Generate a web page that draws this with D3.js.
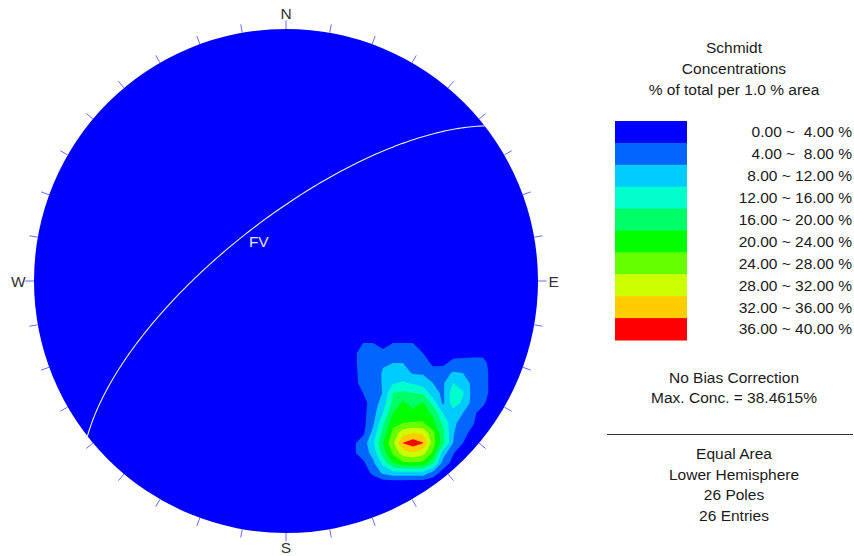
<!DOCTYPE html>
<html><head><meta charset="utf-8">
<script src="https://cdn.jsdelivr.net/npm/d3@7"></script>
<style>
body{margin:0;background:#fff;}
svg{display:block;font-family:"Liberation Sans",Arial,sans-serif;}
text{white-space:pre;}
</style></head><body>
<svg id="chart" width="854" height="556"></svg>
<script>
// ---------------- data ----------------
const bandThresholds = [4, 8, 12, 16, 20, 24, 28, 32, 36];
const bandColors = ["#0000FF","#0066FF","#00CCFF","#00FFCC","#00FF66","#00FF00","#66FF00","#CCFF00","#FFCC00","#FF0000"];
const bandLabels = ["0.00 ~  4.00 %"," 4.00 ~  8.00 %","8.00 ~ 12.00 %","12.00 ~ 16.00 %","16.00 ~ 20.00 %",
                    "20.00 ~ 24.00 %","24.00 ~ 28.00 %","28.00 ~ 32.00 %","32.00 ~ 36.00 %","36.00 ~ 40.00 %"];
const legendTitle = ["Schmidt", "Concentrations", "% of total per 1.0 % area"];
const infoTop = ["No Bias Correction", "Max. Conc. = 38.4615%"];
const infoBottom = ["Equal Area", "Lower Hemisphere", "26 Poles", "26 Entries"];
const cardinals = [{label:"N", az:0}, {label:"E", az:90}, {label:"S", az:180}, {label:"W", az:270}];
const tickAzimuths = d3.range(0, 360, 10);
const planes = [{name:"FV", dipDirection:322, dip:70}];

// density grid (% of total per 1% area), net units (east, south), primitive radius = 1
const gridEast0 = 0.2262, gridSouth0 = 0.2063, gridStep = 0.03968;
const densityRows = [
 [0,0,0,0,0,0,0,0,0,0,0,0,0,0,0,0,0],
 [0,1.2,4.0,4.0,2.8,4.0,4.0,4.0,2.0,0,0,0,0,0,0,0,0],
 [0,2.0,7.2,6.4,4.8,7.2,7.2,6.4,4.0,2.0,2.0,2.4,2.8,3.0,3.0,0.8,0],
 [0,2.0,7.2,6.4,7.6,8.0,8.0,6.4,6.0,3.2,3.0,5.2,5.2,5.2,5.2,2.2,0],
 [0,2.0,6.4,6.0,8.4,10.0,9.6,7.6,7.6,5.6,6.4,8.4,8.0,6.4,6.0,2.2,0],
 [0,2.0,6.0,5.6,8.4,11.6,12.4,11.6,10.0,8.0,7.4,12.0,10.4,6.8,6.0,2.2,0],
 [0,1.2,4.0,4.0,8.4,16.0,16.8,16.0,15.2,9.6,7.2,14.4,12.4,6.4,6.0,2.2,0],
 [0,0.8,2.8,5.6,10.0,17.2,20.8,18.4,20.4,14.4,7.2,14.0,11.2,6.4,4.8,1.2,0],
 [0,0.8,2.8,6.4,12.0,20.0,22.0,21.2,21.6,19.2,12.0,10.4,8.0,4.8,2.4,0.4,0],
 [0,0.8,2.8,7.2,15.2,22.8,24.0,24.4,24.4,21.2,15.2,9.2,6.0,4.4,1.2,0,0],
 [0,1.2,3.2,9.2,17.6,25.2,30.4,32.0,31.2,25.2,17.2,8.4,5.2,2.8,0.4,0,0],
 [0,3.2,6.0,11.2,20.0,27.2,36.2,38.4,36.2,26.0,17.6,8.0,4.0,1.2,0,0,0],
 [0,3.2,6.0,9.2,18.0,24.8,30.0,31.6,29.6,23.2,10.0,4.4,1.2,0,0,0,0],
 [0,1.2,3.2,7.2,13.2,20.0,23.2,23.6,22.8,16.8,6.4,2.8,0.4,0,0,0,0],
 [0,0,2.0,4.8,8.8,10.4,10.4,10.4,10.4,6.4,2.4,0,0,0,0,0,0],
 [0,0,0.4,1.6,1.6,1.6,1.6,1.4,1.4,1.2,0,0,0,0,0,0,0],
 [0,0,0,0,0,0,0,0,0,0,0,0,0,0,0,0,0]
];

// ---------------- layout ----------------
const cx = 286, cy = 281, R = 252;
const svg = d3.select("#chart");
const xS = d3.scaleLinear().domain([-1, 1]).range([cx - R, cx + R]);
const yS = d3.scaleLinear().domain([-1, 1]).range([cy - R, cy + R]);
const rad = d => d * Math.PI / 180;

// equal-area lower hemisphere projection: trend/plunge -> net units
function project(trend, plunge) {
  const r = Math.SQRT2 * Math.sin(rad(90 - plunge) / 2);
  return [r * Math.sin(rad(trend)), -r * Math.cos(rad(trend))];
}

svg.append("defs").append("clipPath").attr("id", "net")
  .append("circle").attr("cx", xS(0)).attr("cy", yS(0)).attr("r", xS(1) - xS(0));

// primitive circle
svg.append("circle").attr("cx", xS(0)).attr("cy", yS(0)).attr("r", xS(1) - xS(0))
  .attr("fill", bandColors[0]);

// density contours
const nx = densityRows[0].length, ny = densityRows.length;
const values = densityRows.flat();
const contours = d3.contours().size([nx, ny]).thresholds(bandThresholds)(values);
const gridPath = d3.geoPath(d3.geoTransform({
  point(x, y) {
    this.stream.point(xS(gridEast0 + (x - 0.5) * gridStep), yS(gridSouth0 + (y - 0.5) * gridStep));
  }
}));
svg.append("g").attr("clip-path", "url(#net)")
  .selectAll("path").data(contours).join("path")
  .attr("d", gridPath)
  .attr("fill", (d, i) => bandColors[i + 1]);

// great circle(s)
planes.forEach(p => {
  const strike = p.dipDirection - 90;
  const s = [Math.sin(rad(strike)), Math.cos(rad(strike)), 0];
  const dv = [Math.cos(rad(p.dip)) * Math.sin(rad(p.dipDirection)),
              Math.cos(rad(p.dip)) * Math.cos(rad(p.dipDirection)),
              Math.sin(rad(p.dip))];
  const pts = d3.range(0, 180.5, 1).map(t => {
    const c = Math.cos(rad(t)), sn = Math.sin(rad(t));
    let v = [c * s[0] + sn * dv[0], c * s[1] + sn * dv[1], c * s[2] + sn * dv[2]];
    if (v[2] < 0) v = v.map(a => -a);
    const plunge = Math.asin(Math.min(1, v[2])) * 180 / Math.PI;
    const trend = Math.atan2(v[0], v[1]) * 180 / Math.PI;
    return project(trend, plunge);
  });
  svg.append("path")
    .attr("d", d3.line().x(d => xS(d[0])).y(d => yS(d[1]))(pts))
    .attr("fill", "none").attr("stroke", "#eef0ff").attr("stroke-width", 1.1);
  const mid = project(p.dipDirection, p.dip);
  svg.append("text").attr("x", xS(mid[0]) + 1).attr("y", yS(mid[1]) + 15)
    .attr("fill", "#e4e4ff").attr("font-size", 15.5).text(p.name);
});

// ticks
svg.append("g").selectAll("line").data(tickAzimuths).join("line")
  .attr("x1", a => xS(Math.sin(rad(a)))).attr("y1", a => yS(-Math.cos(rad(a))))
  .attr("x2", a => xS(1.034 * Math.sin(rad(a)))).attr("y2", a => yS(-1.034 * Math.cos(rad(a))))
  .attr("stroke", "#6a6aff").attr("stroke-width", 1);

// cardinal labels
svg.append("g").selectAll("text").data(cardinals).join("text")
  .attr("x", d => xS(1.062 * Math.sin(rad(d.az))))
  .attr("y", d => yS(-1.062 * Math.cos(rad(d.az))) + (d.az === 180 ? -1.5 : 0))
  .attr("text-anchor", "middle").attr("dy", "0.36em")
  .attr("font-size", 15.5).attr("fill", "#333").text(d => d.label);

// legend
const lx = 734;
const tcol = "#1a1a1a";
svg.append("g").selectAll("text").data(legendTitle).join("text")
  .attr("x", lx).attr("y", (d, i) => 48 + i * 21).attr("dy", "0.35em")
  .attr("text-anchor", "middle").attr("font-size", 15.5).attr("fill", tcol).text(d => d);

const rowY = d3.scaleBand().domain(d3.range(bandColors.length)).range([121, 340]).padding(0);
svg.append("g").selectAll("rect").data(bandColors).join("rect")
  .attr("x", 615).attr("width", 72)
  .attr("y", (d, i) => rowY(i)).attr("height", rowY.bandwidth() + 0.5)
  .attr("fill", d => d);
svg.append("g").selectAll("text").data(bandLabels).join("text")
  .attr("x", 852).attr("y", (d, i) => rowY(i) + rowY.bandwidth() / 2).attr("dy", "0.35em")
  .attr("text-anchor", "end").attr("font-size", 15.5).attr("fill", tcol).text(d => d);

svg.append("g").selectAll("text").data(infoTop).join("text")
  .attr("x", lx).attr("y", (d, i) => 378 + i * 20).attr("dy", "0.35em")
  .attr("text-anchor", "middle").attr("font-size", 15.5).attr("fill", tcol).text(d => d);
svg.append("line").attr("x1", 607).attr("x2", 853).attr("y1", 434.5).attr("y2", 434.5)
  .attr("stroke", "#333").attr("stroke-width", 1);
svg.append("g").selectAll("text").data(infoBottom).join("text")
  .attr("x", lx).attr("y", (d, i) => 454 + i * 20.4).attr("dy", "0.35em")
  .attr("text-anchor", "middle").attr("font-size", 15.5).attr("fill", tcol).text(d => d);
</script>
</body></html>
